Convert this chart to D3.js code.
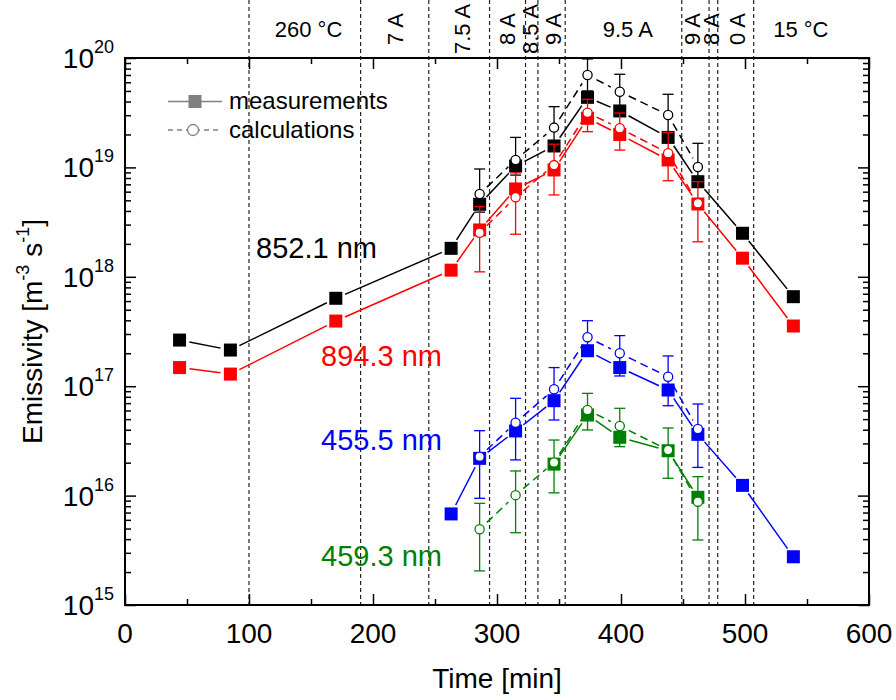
<!DOCTYPE html>
<html>
<head>
<meta charset="utf-8">
<script src="https://cdn.jsdelivr.net/npm/d3@7"></script>
<style>
  html, body { margin: 0; padding: 0; background: #fff; }
  svg { display: block; font-family: "Liberation Sans", Arial, Helvetica, sans-serif; }
</style>
</head>
<body>
<svg id="chart" width="896" height="700"></svg>
<script>
// ---------------- DATA ----------------
const timeMeas = [44, 85, 170, 263, 286, 315, 346, 373, 399, 438, 462, 498, 539];
const black852Meas = [2.64e17, 2.14e17, 6.36e17, 1.82e18, 4.6e18, 1.03e19, 1.57e19, 4.37e19, 3.28e19, 1.88e19, 7.4e18, 2.5e18, 6.58e17];
const red894Meas   = [1.48e17, 1.29e17, 3.94e17, 1.15e18, 2.68e18, 6.35e18, 9.48e18, 2.81e19, 2.0e19, 1.17e19, 4.63e18, 1.48e18, 3.55e17];

const timeBlueMeas = [263, 286, 315, 346, 373, 399, 438, 462, 498, 539];
const blue455Meas  = [6.8e15, 2.19e16, 3.9e16, 7.37e16, 2.11e17, 1.48e17, 9.23e16, 3.63e16, 1.24e16, 2.76e15];

const timeGreenMeas = [346, 373, 399, 438, 462];
const green459Meas  = [1.94e16, 5.45e16, 3.41e16, 2.57e16, 9.65e15];

const timeCalc = [286, 315, 346, 373, 399, 438, 462];
const black852Calc   = [5.71e18, 1.17e19, 2.31e19, 7.0e19, 4.92e19, 3.01e19, 1.01e19];
const black852CalcHi = [9.67e18, 1.88e19, 3.59e19, 9.8e19, 7.1e19, 4.66e19, 1.66e19];
const black852CalcLo = [3.9e18, 8.5e18, 1.5e19, 5.0e19, 3.41e19, 1.94e19, 6.6e18];

const red894Calc   = [2.53e18, 5.33e18, 1.05e19, 3.16e19, 2.28e19, 1.35e19, 4.7e18];
const red894CalcHi = [4.37e18, 8.9e18, 1.63e19, 4.19e19, 3.14e19, 2.09e19, 7.4e18];
const red894CalcLo = [1.11e18, 2.45e18, 5.6e18, 2.12e19, 1.44e19, 7.55e18, 2.09e18];

const blue455Calc   = [2.27e16, 4.64e16, 9.37e16, 2.8e17, 2.0e17, 1.22e17, 4.06e16];
const blue455CalcHi = [3.92e16, 7.75e16, 1.48e17, 3.97e17, 2.9e17, 1.89e17, 6.88e16];
const blue455CalcLo = [9.45e15, 2.12e16, 4.91e16, 1.93e17, 1.24e17, 6.63e16, 1.81e16];

const green459Calc   = [4.92e15, 1.01e16, 2.01e16, 6.06e16, 4.33e16, 2.61e16, 8.8e15];
const green459CalcHi = [8.5e15, 1.68e16, 3.22e16, 8.6e16, 6.28e16, 4.15e16, 1.49e16];
const green459CalcLo = [2.05e15, 4.58e15, 1.06e16, 3.98e16, 2.8e16, 1.44e16, 3.93e15];

const phaseLineTimes = [100, 190, 245, 294, 323, 333, 355, 449, 471, 478, 507];
const phaseLabels     = ["260 \u00B0C", "7 A", "7.5 A", "8 A", "8.5 A", "9 A", "9.5 A", "9 A", "8 A", "0 A", "15 \u00B0C"];
const phaseLabelTimes = [148, 218, 272, 308.5, 327, 345.5, 405.5, 457.3, 473, 494, 545];
const phaseLabelRotated = [false, true, true, true, true, true, false, true, true, true, false];

const seriesNames  = ["852.1 nm", "894.3 nm", "455.5 nm", "459.3 nm"];
const seriesColors = ["#000000", "#ff0000", "#0000ff", "#008000"];

const xTickValues = [0, 100, 200, 300, 400, 500, 600];
const yDecades = [15, 16, 17, 18, 19, 20];

// ---------------- LAYOUT ----------------
const svg = d3.select("#chart");
const L = 125, R = 869, T = 58, B = 605;
const x = d3.scaleLinear().domain([0, 600]).range([L, R]);
const y = d3.scaleLog().domain([1e15, 1e20]).range([B, T]);

// phase dashed lines
svg.append("g").selectAll("line").data(phaseLineTimes).join("line")
  .attr("x1", d => x(d)).attr("x2", d => x(d))
  .attr("y1", 0).attr("y2", B)
  .attr("stroke", "#222").attr("stroke-width", 1.2).attr("stroke-dasharray", "4,3");

// phase labels
svg.append("g").selectAll("text").data(phaseLabels).join("text")
  .attr("transform", (d, i) => phaseLabelRotated[i]
      ? `translate(${x(phaseLabelTimes[i])},29) rotate(-90)`
      : `translate(${x(phaseLabelTimes[i])},29)`)
  .attr("text-anchor", "middle").attr("dy", "0.36em")
  .attr("font-size", 22).attr("fill", "#000")
  .text(d => d);

// ---------------- AXES ----------------
const minorY = [];
for (let e = 15; e < 20; e++) for (let m = 2; m <= 9; m++) minorY.push(m * Math.pow(10, e));
const majorY = yDecades.map(e => Math.pow(10, e));
const minorX = d3.range(50, 600, 100);

function styleAxis(g) {
  g.select(".domain").remove();
  g.selectAll(".tick line").attr("stroke", "#000").attr("stroke-width", 1.5);
  g.selectAll(".tick text").remove();
}
svg.append("g").attr("transform", `translate(${L},0)`).call(d3.axisLeft(y).tickValues(majorY).tickSize(-11).tickFormat("")).call(styleAxis);
svg.append("g").attr("transform", `translate(${L},0)`).call(d3.axisLeft(y).tickValues(minorY).tickSize(-6).tickFormat("")).call(styleAxis);
svg.append("g").attr("transform", `translate(${R},0)`).call(d3.axisRight(y).tickValues(majorY).tickSize(-11).tickFormat("")).call(styleAxis);
svg.append("g").attr("transform", `translate(${R},0)`).call(d3.axisRight(y).tickValues(minorY).tickSize(-6).tickFormat("")).call(styleAxis);
svg.append("g").attr("transform", `translate(0,${B})`).call(d3.axisBottom(x).tickValues(xTickValues).tickSize(-11).tickFormat("")).call(styleAxis);
svg.append("g").attr("transform", `translate(0,${B})`).call(d3.axisBottom(x).tickValues(minorX).tickSize(-6).tickFormat("")).call(styleAxis);
svg.append("g").attr("transform", `translate(0,${T})`).call(d3.axisTop(x).tickValues(xTickValues).tickSize(-11).tickFormat("")).call(styleAxis);
svg.append("g").attr("transform", `translate(0,${T})`).call(d3.axisTop(x).tickValues(minorX).tickSize(-6).tickFormat("")).call(styleAxis);

// frame
svg.append("rect").attr("x", L).attr("y", T).attr("width", R - L).attr("height", B - T)
  .attr("fill", "none").attr("stroke", "#000").attr("stroke-width", 2);

// x tick labels
svg.append("g").selectAll("text").data(xTickValues).join("text")
  .attr("x", d => x(d)).attr("y", B + 38)
  .attr("text-anchor", "middle").attr("font-size", 28).text(d => d);

// y tick labels 10^n
const yl = svg.append("g").selectAll("text").data(yDecades).join("text")
  .attr("x", 114).attr("y", d => y(Math.pow(10, d)) + 10)
  .attr("text-anchor", "end").attr("font-size", 28);
yl.append("tspan").text("10");
yl.append("tspan").attr("dy", -15).attr("font-size", 18).text(d => d);

// axis titles
svg.append("text").attr("x", (L + R) / 2).attr("y", 688)
  .attr("text-anchor", "middle").attr("font-size", 28).text("Time [min]");
const yt = svg.append("text")
  .attr("transform", `translate(42,${(T + B) / 2}) rotate(-90)`)
  .attr("text-anchor", "middle").attr("font-size", 28);
yt.append("tspan").text("Emissivity [m");
yt.append("tspan").attr("font-size", 18).attr("dy", -13).text("-3");
yt.append("tspan").attr("dy", 13).text(" s");
yt.append("tspan").attr("font-size", 18).attr("dy", -13).text("-1");
yt.append("tspan").attr("dy", 13).text("]");

// ---------------- SERIES ----------------
const GAP = 10;
function gapped(pts) {
  const segs = [];
  for (let i = 0; i < pts.length - 1; i++) {
    const [x1, y1] = pts[i], [x2, y2] = pts[i + 1];
    const dx = x2 - x1, dy = y2 - y1, d = Math.hypot(dx, dy);
    if (d > 2 * GAP) segs.push([x1 + dx / d * GAP, y1 + dy / d * GAP, x2 - dx / d * GAP, y2 - dy / d * GAP]);
  }
  return segs;
}
function drawMeas(times, vals, color) {
  const g = svg.append("g");
  const pts = times.map((t, i) => [x(t), y(vals[i])]);
  g.selectAll("line").data(gapped(pts)).join("line")
    .attr("x1", d => d[0]).attr("y1", d => d[1]).attr("x2", d => d[2]).attr("y2", d => d[3])
    .attr("stroke", color).attr("stroke-width", 1.5);
  g.selectAll("rect").data(pts).join("rect")
    .attr("x", d => d[0] - 6.5).attr("y", d => d[1] - 6.5).attr("width", 13).attr("height", 13)
    .attr("fill", color);
}
function drawCalc(times, vals, hi, lo, color) {
  const g = svg.append("g");
  const eb = g.append("g").selectAll("g").data(times).join("g");
  eb.append("line").attr("x1", d => x(d)).attr("x2", d => x(d))
    .attr("y1", (d, i) => y(hi[i])).attr("y2", (d, i) => y(lo[i]));
  eb.append("line").attr("x1", d => x(d) - 5.5).attr("x2", d => x(d) + 5.5)
    .attr("y1", (d, i) => y(hi[i])).attr("y2", (d, i) => y(hi[i]));
  eb.append("line").attr("x1", d => x(d) - 5.5).attr("x2", d => x(d) + 5.5)
    .attr("y1", (d, i) => y(lo[i])).attr("y2", (d, i) => y(lo[i]));
  eb.selectAll("line").attr("stroke", color).attr("stroke-width", 1.3);
  const pts = times.map((t, i) => [x(t), y(vals[i])]);
  g.append("g").selectAll("line").data(gapped(pts)).join("line")
    .attr("x1", d => d[0]).attr("y1", d => d[1]).attr("x2", d => d[2]).attr("y2", d => d[3])
    .attr("stroke", color).attr("stroke-width", 1.5).attr("stroke-dasharray", "8,5");
  g.append("g").selectAll("circle").data(pts).join("circle")
    .attr("cx", d => d[0]).attr("cy", d => d[1]).attr("r", 4.6)
    .attr("fill", "#fff").attr("stroke", color).attr("stroke-width", 1.3);
}

drawMeas(timeMeas, black852Meas, seriesColors[0]);
drawCalc(timeCalc, black852Calc, black852CalcHi, black852CalcLo, seriesColors[0]);
drawMeas(timeMeas, red894Meas, seriesColors[1]);
drawCalc(timeCalc, red894Calc, red894CalcHi, red894CalcLo, seriesColors[1]);
drawMeas(timeBlueMeas, blue455Meas, seriesColors[2]);
drawCalc(timeCalc, blue455Calc, blue455CalcHi, blue455CalcLo, seriesColors[2]);
drawMeas(timeGreenMeas, green459Meas, seriesColors[3]);
drawCalc(timeCalc, green459Calc, green459CalcHi, green459CalcLo, seriesColors[3]);

// series labels
const seriesLabelPos = [[256, 258], [321, 366], [321, 450], [321, 566]];
svg.append("g").selectAll("text").data(seriesNames).join("text")
  .attr("x", (d, i) => seriesLabelPos[i][0]).attr("y", (d, i) => seriesLabelPos[i][1])
  .attr("font-size", 29).attr("fill", (d, i) => seriesColors[i]).text(d => d);

// ---------------- LEGEND ----------------
const lg = svg.append("g");
const legendGray = "#808080";
lg.append("line").attr("x1", 168).attr("x2", 222).attr("y1", 101.5).attr("y2", 101.5)
  .attr("stroke", legendGray).attr("stroke-width", 1.5);
lg.append("rect").attr("x", 188.5).attr("y", 95).attr("width", 13).attr("height", 13).attr("fill", legendGray);
lg.append("line").attr("x1", 168).attr("x2", 222).attr("y1", 130).attr("y2", 130)
  .attr("stroke", legendGray).attr("stroke-width", 1.5).attr("stroke-dasharray", "5,4");
lg.append("circle").attr("cx", 193).attr("cy", 130).attr("r", 5.5)
  .attr("fill", "#fff").attr("stroke", legendGray).attr("stroke-width", 1.3);
lg.append("text").attr("x", 229).attr("y", 109).attr("font-size", 24).text("measurements");
lg.append("text").attr("x", 229).attr("y", 138).attr("font-size", 24).text("calculations");
</script>
</body>
</html>
